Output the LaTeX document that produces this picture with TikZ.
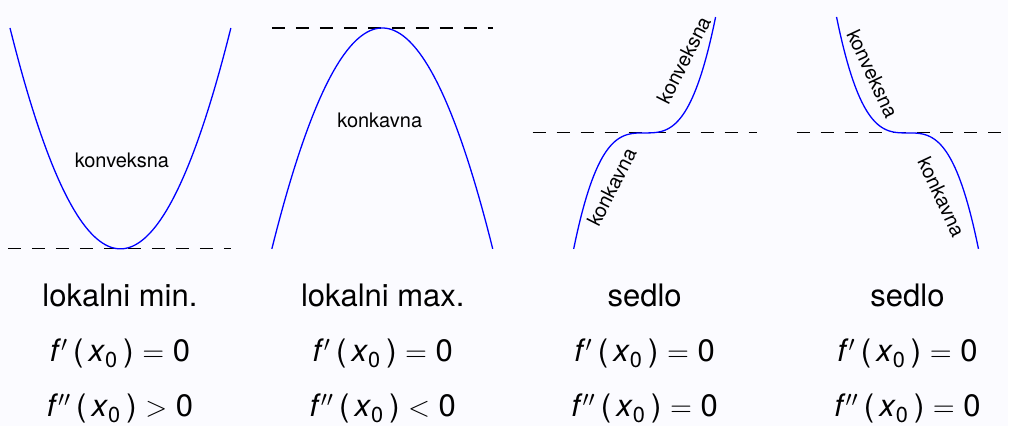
\documentclass[tikz,border=0pt]{standalone}
\usepackage{fontspec}
\setmainfont{TeX Gyre Heros}
\usetikzlibrary{positioning}
\definecolor{slidebg}{RGB}{251,251,255}

\begin{document}
\begin{tikzpicture}[x=0.5pt, y=-0.5pt,
    curve/.style={blue, line width=0.65pt},
    level/.style={dash pattern=on 6.5pt off 5.5pt, line width=0.55pt},
    small/.style={font=\fontsize{10}{12}\selectfont, inner sep=0pt},
    big/.style={font=\fontsize{15.5}{18}\selectfont, anchor=base, inner sep=0pt}
]
    % background
    \fill[slidebg] (0,0) rectangle (1009,426);

    % lokalni minimum
    \draw[level] (8,249) -- (231,249);
    \draw[curve] plot[domain=-1:1, samples=80] ({120.5+110.5*\x}, {249-221*\x*\x});
    \node[small] (minconv) at (122,160) {konveksna};

    % lokalni maksimum
    \draw[level] (272,28) -- (493,28);
    \draw[curve] plot[domain=-1:1, samples=80] ({382.5+110.5*\x}, {28+221*\x*\x});
    \node[small] (maxconc) at (380,120) {konkavna};

    % sedlo (rastuca)
    \draw[level] (533,133) -- (757,133);
    \draw[curve] plot[domain=-1:1, samples=80] ({645+71*\x}, {133-116*\x*\x*\x});
    \node[small, rotate=63] (upconc) at (612,187) {konkavna};
    \node[small, rotate=63] (upconv) at (684,60) {konveksna};

    % sedlo (padajuca)
    \draw[level] (797,133) -- (1009,133);
    \draw[curve] plot[domain=-1:1, samples=80] ({908+71*\x}, {133+116*\x*\x*\x});
    \node[small, rotate=-65] (downconv) at (873,74) {konveksna};
    \node[small, rotate=-65] (downconc) at (942,197) {konkavna};

    % opisi
    \node[big] (minname) at (120,307) {lokalni min.};
    \node[big] (minfirst) at (120,362) {\textit{f}$'$\,(\,\textit{x}\textsubscript{0}\,) $=$ 0};
    \node[big] (minsecond) at (120,417) {\textit{f}$''$\,(\,\textit{x}\textsubscript{0}\,) $>$ 0};

    \node[big] (maxname) at (383,307) {lokalni max.};
    \node[big] (maxfirst) at (383,362) {\textit{f}$'$\,(\,\textit{x}\textsubscript{0}\,) $=$ 0};
    \node[big] (maxsecond) at (383,417) {\textit{f}$''$\,(\,\textit{x}\textsubscript{0}\,) $<$ 0};

    \node[big] (upname) at (645,307) {sedlo};
    \node[big] (upfirst) at (645,362) {\textit{f}$'$\,(\,\textit{x}\textsubscript{0}\,) $=$ 0};
    \node[big] (upsecond) at (645,417) {\textit{f}$''$\,(\,\textit{x}\textsubscript{0}\,) $=$ 0};

    \node[big] (downname) at (908,307) {sedlo};
    \node[big] (downfirst) at (908,362) {\textit{f}$'$\,(\,\textit{x}\textsubscript{0}\,) $=$ 0};
    \node[big] (downsecond) at (908,417) {\textit{f}$''$\,(\,\textit{x}\textsubscript{0}\,) $=$ 0};
\end{tikzpicture}
\end{document}
